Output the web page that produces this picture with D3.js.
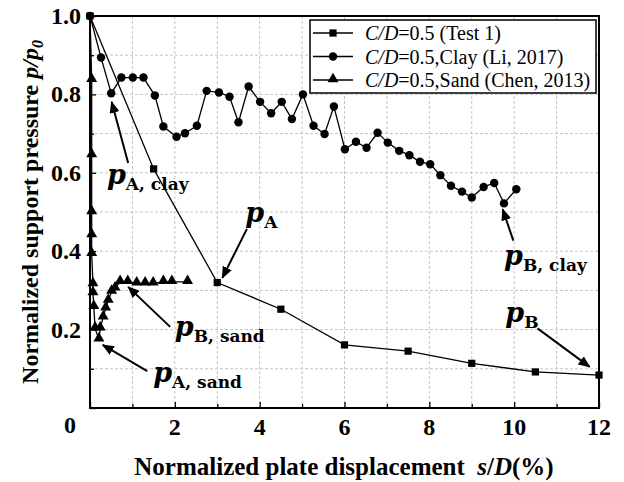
<!DOCTYPE html>
<html><head><meta charset="utf-8">
<script src="https://cdn.jsdelivr.net/npm/d3@7"></script>
<style>
body{margin:0;background:#fff}
svg{display:block}
.tm{font-family:"Liberation Serif","Times New Roman",Times,serif}
.dv{font-family:"DejaVu Serif",serif}
</style>
</head><body>
<svg id="c" width="624" height="482"></svg>
<script>
// ---- data ----
const test1X = [0, 1.5, 3, 4.5, 6, 7.5, 9, 10.5, 12];
const test1Y = [1.0, 0.61, 0.32, 0.252, 0.161, 0.145, 0.114, 0.092, 0.084];

const clayX = [0, 0.26, 0.50, 0.74, 1.01, 1.26, 1.53, 1.73, 2.04, 2.24, 2.52, 2.75, 3.04, 3.29, 3.50, 3.74, 4.01, 4.27, 4.52, 4.76, 5.02, 5.27, 5.53, 5.75, 6.01, 6.27, 6.52, 6.78, 7.02, 7.29, 7.53, 7.78, 8.02, 8.26, 8.51, 8.77, 9.00, 9.28, 9.53, 9.76, 10.05];
const clayY = [1.0, 0.894, 0.803, 0.843, 0.843, 0.843, 0.797, 0.718, 0.692, 0.701, 0.720, 0.809, 0.805, 0.794, 0.729, 0.820, 0.781, 0.752, 0.781, 0.737, 0.800, 0.720, 0.699, 0.769, 0.660, 0.679, 0.664, 0.702, 0.677, 0.656, 0.645, 0.628, 0.622, 0.594, 0.567, 0.552, 0.537, 0.564, 0.574, 0.522, 0.558];

const sandX = [0.04, 0.04, 0.04, 0.04, 0.04, 0.07, 0.07, 0.09, 0.12, 0.21, 0.24, 0.31, 0.37, 0.43, 0.51, 0.59, 0.71, 0.89, 1.10, 1.30, 1.49, 1.73, 1.93, 2.30];
const sandY = [0.837, 0.645, 0.500, 0.441, 0.393, 0.316, 0.293, 0.258, 0.203, 0.175, 0.203, 0.231, 0.254, 0.274, 0.297, 0.305, 0.322, 0.322, 0.318, 0.318, 0.318, 0.322, 0.322, 0.322];

const xTickVals = [2, 4, 6, 8, 10, 12];
const yTickVals = [0.2, 0.4, 0.6, 0.8, 1.0];
const legendLabels = [["C/D", "=0.5 (Test 1)"], ["C/D", "=0.5,Clay (Li, 2017)"], ["C/D", "=0.5,Sand (Chen, 2013)"]];

// annotations: label subscript, text anchor (x,y), arrow from (x,y) to (x,y)
const annSub = ["A, clay", "A", "B, sand", "A, sand", "B, clay", "B"];
const annTextX = [0.40, 3.66, 2.00, 1.49, 9.76, 9.79];
const annTextY = [0.571, 0.474, 0.184, 0.066, 0.365, 0.219];
const arrFromX = [0.90, 3.70, 1.89, 1.35, 9.98, 10.55];
const arrFromY = [0.625, 0.457, 0.207, 0.094, 0.427, 0.203];
const arrToX = [0.51, 3.12, 0.90, 0.30, 9.73, 11.78];
const arrToY = [0.781, 0.332, 0.309, 0.161, 0.507, 0.105];

// ---- layout ----
const svg = d3.select("#c");
const L = 90, R = 599, T = 16, B = 408;
const x = d3.scaleLinear().domain([0, 12]).range([L, R]);
const y = d3.scaleLinear().domain([0, 1]).range([B, T]);

// grid
const g = svg.append("g");
g.selectAll("line.vg").data(d3.range(1, 12)).join("line")
  .attr("x1", d => x(d)).attr("x2", d => x(d)).attr("y1", T).attr("y2", B)
  .attr("stroke", "#c4c4c4").attr("stroke-width", 1).attr("stroke-dasharray", "3,2");
g.selectAll("line.hg").data(d3.range(1, 10).map(d => d / 10)).join("line")
  .attr("y1", d => y(d)).attr("y2", d => y(d)).attr("x1", L).attr("x2", R)
  .attr("stroke", "#c4c4c4").attr("stroke-width", 1).attr("stroke-dasharray", "3,2");

// axes with inside ticks
const xAxis = d3.axisBottom(x).tickValues(d3.range(0, 13, 1)).tickSize(-6).tickFormat("");
const yAxis = d3.axisLeft(y).tickValues(d3.range(0, 11, 1).map(d => d / 10)).tickSize(-6).tickFormat("");
const xa = svg.append("g").attr("transform", `translate(0,${B})`).call(xAxis);
const ya = svg.append("g").attr("transform", `translate(${L},0)`).call(yAxis);
[xa, ya].forEach(a => { a.select(".domain").remove(); a.selectAll("line").attr("stroke", "#000").attr("stroke-width", 1.3); });
xa.selectAll(".tick line").attr("y2", (d) => (d % 2 === 0 ? -6 : -4));
ya.selectAll(".tick line").attr("x2", (d) => (Math.round(d * 10) % 2 === 0 ? 6 : 4));

// tick labels
svg.append("g").selectAll("text").data(xTickVals).join("text").attr("class", "tm")
  .attr("x", d => x(d)).attr("y", B + 27).attr("text-anchor", "middle")
  .attr("font-weight", "bold").attr("font-size", 24).text(d => d);
svg.append("g").selectAll("text").data(yTickVals).join("text").attr("class", "tm")
  .attr("x", L - 9).attr("y", d => y(d) + 8).attr("text-anchor", "end")
  .attr("font-weight", "bold").attr("font-size", 24).text(d => d.toFixed(1));
svg.append("text").attr("class", "tm").attr("x", L - 20).attr("y", B + 25).attr("text-anchor", "middle")
  .attr("font-weight", "bold").attr("font-size", 24).text("0");

// axis titles
const xt = svg.append("text").attr("class", "tm").attr("x", 344).attr("y", 475).attr("text-anchor", "middle")
  .attr("font-weight", "bold").attr("font-size", 25);
xt.append("tspan").text("Normalized plate displacement\u00A0\u00A0");
xt.append("tspan").attr("font-style", "italic").text("s");
xt.append("tspan").text("/");
xt.append("tspan").attr("font-style", "italic").text("D");
xt.append("tspan").text("(%)");

const yt = svg.append("text").attr("class", "tm").attr("transform", `translate(38,${(T + B) / 2}) rotate(-90)`)
  .attr("text-anchor", "middle").attr("font-weight", "bold").attr("font-size", 24);
yt.append("tspan").text("Normalized support pressure ");
yt.append("tspan").attr("font-style", "italic").text("p/p");
yt.append("tspan").attr("font-style", "italic").attr("font-size", 16).attr("dy", 5).text("0");

// series
const line = d3.line().x(d => x(d[0])).y(d => y(d[1]));
const t1 = test1X.map((v, i) => [v, test1Y[i]]);
const cl = clayX.map((v, i) => [v, clayY[i]]);
const sd = sandX.map((v, i) => [v, sandY[i]]);
const plot = svg.append("g");
plot.append("path").datum(t1).attr("d", line).attr("fill", "none").attr("stroke", "#000").attr("stroke-width", 1.3);
plot.append("path").datum(cl).attr("d", line).attr("fill", "none").attr("stroke", "#000").attr("stroke-width", 1.3);
plot.append("path").datum([[0, 1.0]].concat(sd)).attr("d", line).attr("fill", "none").attr("stroke", "#000").attr("stroke-width", 1.3);

const sq = d3.symbol().type(d3.symbolSquare).size(52);
const ci = d3.symbol().type(d3.symbolCircle).size(56);
const tr = d3.symbol().type(d3.symbolTriangle).size(52);
plot.selectAll("path.s").data(t1).join("path").attr("class", "s").attr("d", sq)
  .attr("transform", d => `translate(${x(d[0])},${y(d[1])})`).attr("fill", "#000");
plot.selectAll("path.c").data(cl).join("path").attr("class", "c").attr("d", ci)
  .attr("transform", d => `translate(${x(d[0])},${y(d[1])})`).attr("fill", "#000");
plot.selectAll("path.t").data(sd).join("path").attr("class", "t").attr("d", tr)
  .attr("transform", d => `translate(${x(d[0])},${y(d[1]) - 1})`).attr("fill", "#000");

// frame
svg.append("rect").attr("x", L).attr("y", T).attr("width", R - L).attr("height", B - T)
  .attr("fill", "none").attr("stroke", "#000").attr("stroke-width", 2);

// legend
const lg = svg.append("g");
lg.append("rect").attr("x", 310).attr("y", 20).attr("width", 286).attr("height", 73)
  .attr("fill", "#fff").attr("stroke", "#000").attr("stroke-width", 1.5);
const syms = [sq, ci, tr];
legendLabels.forEach((lab, i) => {
  const yy = 33 + i * 23.5;
  lg.append("line").attr("x1", 313).attr("x2", 353).attr("y1", yy).attr("y2", yy).attr("stroke", "#000").attr("stroke-width", 1.3);
  lg.append("path").attr("d", syms[i]).attr("transform", `translate(333,${yy - (i === 2 ? 1 : 0)})`).attr("fill", "#000");
  const t = lg.append("text").attr("class", "tm").attr("x", 365).attr("y", yy + 7).attr("font-size", 20);
  t.append("tspan").attr("font-style", "italic").text(lab[0]);
  t.append("tspan").text(lab[1]);
});

// annotations
const ann = svg.append("g");
const defs = svg.append("defs");
defs.append("marker").attr("id", "ah").attr("viewBox", "0 0 12 10").attr("refX", 11).attr("refY", 5)
  .attr("markerWidth", 12).attr("markerHeight", 10).attr("markerUnits", "userSpaceOnUse").attr("orient", "auto")
  .append("path").attr("d", "M0,0 L12,5 L0,10 Z").attr("fill", "#000");
annSub.forEach((s, i) => {
  ann.append("line").attr("x1", x(arrFromX[i])).attr("y1", y(arrFromY[i]))
    .attr("x2", x(arrToX[i])).attr("y2", y(arrToY[i]))
    .attr("stroke", "#000").attr("stroke-width", 2).attr("marker-end", "url(#ah)");
  const t = ann.append("text").attr("class", "dv").attr("x", x(annTextX[i])).attr("y", y(annTextY[i]))
    .attr("font-weight", "bold");
  t.append("tspan").attr("font-style", "italic").attr("font-size", 27).text("p");
  t.append("tspan").attr("font-size", 17).attr("dy", 6).text(s);
});
</script>
</body></html>
